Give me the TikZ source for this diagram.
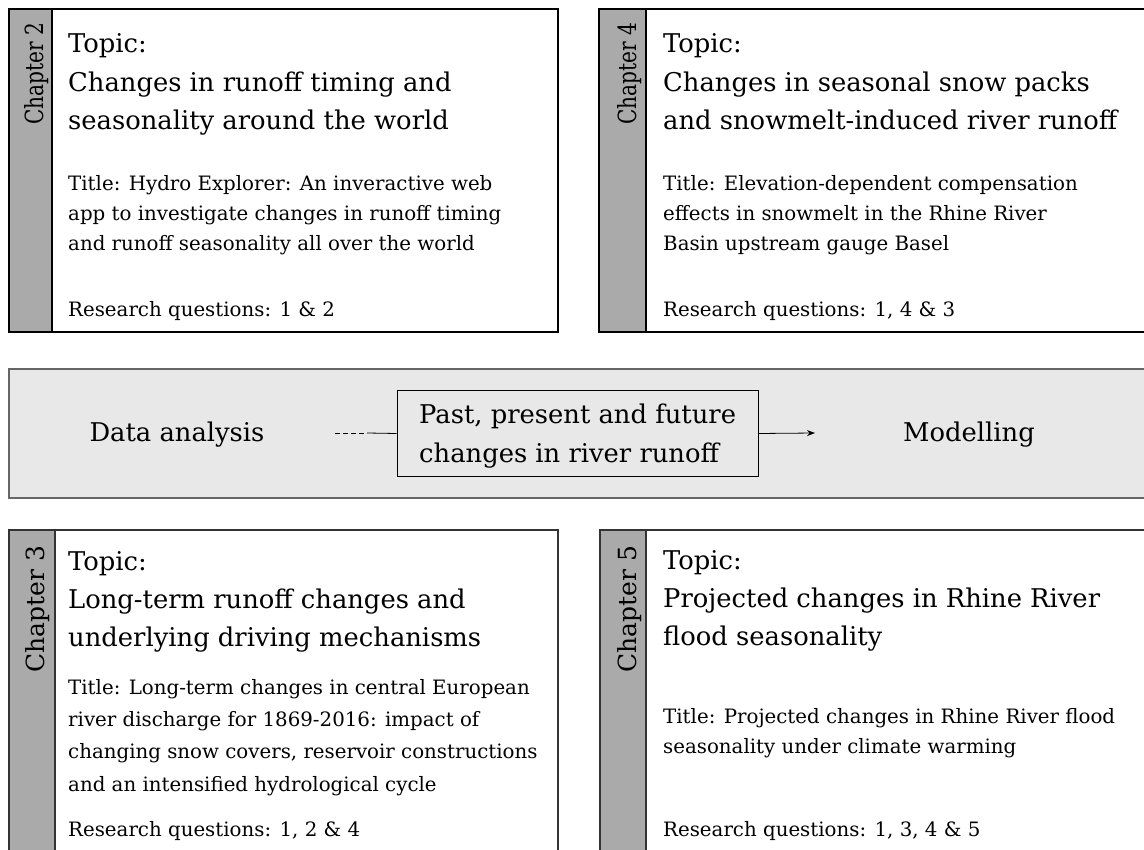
\documentclass[tikz,border=0pt]{standalone}
\usepackage{fontspec}
\setmainfont{DejaVu Serif}
\usetikzlibrary{arrows.meta}
\definecolor{stripgray}{HTML}{AAAAAA}
\definecolor{bandgray}{HTML}{E8E8E8}
\definecolor{bandline}{HTML}{666666}
\begin{document}
\begin{tikzpicture}[x=1pt,y=-1pt,
  card/.style={draw=black, line width=1.2pt, fill=white},
  strip/.style={draw=black, line width=1.2pt, fill=stripgray},
  big/.style={font=\fontsize{25.8}{38.5}\selectfont, align=left, anchor=base west, inner sep=0pt},
  bigb/.style={font=\fontsize{25.8}{37.7}\selectfont, align=left, anchor=base west, inner sep=0pt},
  small/.style={font=\fontsize{19.8}{30}\selectfont, align=left, anchor=base west, inner sep=0pt},
  smallb/.style={font=\fontsize{19.8}{32.3}\selectfont, align=left, anchor=base west, inner sep=0pt},
  chap/.style={font=\fontsize{25}{30}\selectfont, rotate=90, anchor=base west, inner sep=0pt}
]
\useasboundingbox (0,0) rectangle (1144,850);
\clip (0,0) rectangle (1144,850);
% ---------- top left card
\draw[card] (9,9) rectangle (558,332);
\draw[strip] (9,9) rectangle (52,332);
\node[chap] (c2) at (43,125) {\scalebox{0.805}[1]{Chapter 2}};
\node[big] (t2) at (68,130) {Topic:\\Changes in runoff timing and\\seasonality around the world};
\node[small] (ti2) at (68,251) {Title: Hydro Explorer: An inveractive web\\app to investigate changes in runoff timing\\and runoff seasonality all over the world};
\node[small] (r2) at (68,317) {Research questions: 1 \& 2};
% ---------- top right card
\draw[card] (599,9) rectangle (1160,332);
\draw[strip] (599,9) rectangle (646,332);
\node[chap] (c4) at (636,125) {\scalebox{0.805}[1]{Chapter 4}};
\node[big] (t4) at (663,130) {Topic:\\Changes in seasonal snow packs\\and snowmelt-induced river runoff};
\node[small] (ti4) at (663,251) {Title: Elevation-dependent compensation\\effects in snowmelt in the Rhine River\\Basin upstream gauge Basel};
\node[small] (r4) at (663,317) {Research questions: 1, 4 \& 3};
% ---------- middle band
\draw[draw=bandline, line width=2pt, fill=bandgray] (9,369) rectangle (1160,498);
\node[font=\fontsize{25.8}{30}\selectfont, inner sep=0pt, anchor=base] (da) at (177,441) {Data analysis};
\node[font=\fontsize{25.8}{30}\selectfont, inner sep=0pt, anchor=base] (mo) at (969,441) {Modelling};
\node[draw=black, line width=1pt, fill=bandgray, minimum width=361pt, minimum height=85pt] (mid) at (577.5,433.5) {};
\node[font=\fontsize{25.8}{39}\selectfont, align=left, inner sep=0pt, anchor=base west] (midt) at (419,462)
      {Past, present and future\\changes in river runoff};
\coordinate (ds) at (335,433);
\coordinate (dm) at (367,433);
\coordinate (ae) at (815,433);
\draw[line width=0.8pt, dash pattern=on 5pt off 3pt] (ds) -- (dm);
\draw[line width=0.8pt] (dm) -- (mid.west);
\draw[line width=0.8pt, -{Stealth[length=8pt,width=6pt]}] (mid.east) -- (ae);
% ---------- bottom left card
\draw[card, draw=black!80] (9,530) rectangle (558,870);
\draw[strip, draw=black!80] (9,530) rectangle (55,870);
\node[chap] (c3) at (44,673) {Chapter 3};
\node[bigb] (t3) at (68,646) {Topic:\\Long-term runoff changes and\\underlying driving mechanisms};
\node[smallb] (ti3) at (68,791) {Title: Long-term changes in central European\\river discharge for 1869-2016: impact of\\changing snow covers, reservoir constructions\\and an intensified hydrological cycle};
\node[small] (r3) at (68,836) {Research questions: 1, 2 \& 4};
% ---------- bottom right card
\draw[card, draw=black!80] (600,530) rectangle (1160,870);
\draw[strip, draw=black!80] (600,530) rectangle (646,870);
\node[chap] (c5) at (636,673) {Chapter 5};
\node[bigb] (t5) at (663,645) {Topic:\\Projected changes in Rhine River\\flood seasonality};
\node[small] (ti5) at (663,753) {Title: Projected changes in Rhine River flood\\seasonality under climate warming};
\node[small] (r5) at (663,836) {Research questions: 1, 3, 4 \& 5};
\end{tikzpicture}
\end{document}
